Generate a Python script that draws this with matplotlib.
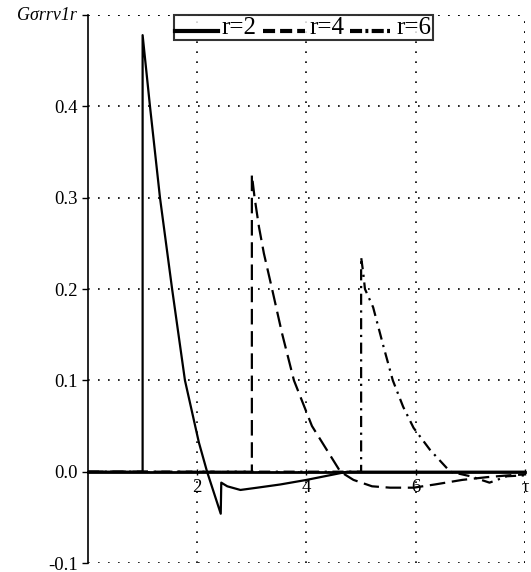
import numpy as np
import matplotlib.pyplot as plt

# r=2 curve
x_r2 = [0, 1.0, 1.0, 1.135, 1.318, 1.54, 1.775, 2.03, 2.18, 2.43, 2.44, 2.55, 2.79, 3.1, 3.52, 4.0, 4.5, 4.75, 8.0]
y_r2 = [0, 0, 0.478, 0.4, 0.3, 0.2, 0.1, 0.032, 0, -0.046, -0.012, -0.016, -0.02, -0.0175, -0.014, -0.009, -0.003, 0, 0]

# r=4 curve
x_r4 = [0, 3.0, 3.0, 3.05, 3.13, 3.22, 3.37, 3.55, 3.77, 4.1, 4.62, 4.86, 5.2, 5.53, 5.96, 6.35, 6.85, 7.3, 7.7, 8.0]
y_r4 = [0, 0, 0.325, 0.3, 0.268, 0.239, 0.2, 0.152, 0.1, 0.05, 0, -0.009, -0.016, -0.0175, -0.0175, -0.014, -0.009, -0.006, -0.004, -0.003]

# r=6 curve
x_r6 = [0, 5.0, 5.0, 5.04, 5.07, 5.22, 5.41, 5.58, 5.77, 5.96, 6.26, 6.63, 7.0, 7.35, 7.67, 8.0]
y_r6 = [0, 0, 0.235, 0.217, 0.2, 0.18, 0.137, 0.1, 0.071, 0.048, 0.024, 0, -0.005, -0.012, -0.005, -0.004]

xticks = [2, 4, 6, 8]
xticklabels = ['2', '4', '6', 'τ']
yticks = [-0.1, 0.0, 0.1, 0.2, 0.3, 0.4, 0.5]
yticklabels = ['-0.1', '0.0', '0.1', '0.2', '0.3', '0.4', '']

plt.rcParams['font.family'] = 'Liberation Serif'

fig = plt.figure(figsize=(5.31, 5.72), dpi=100)
ax = fig.add_axes([0.1657, 0.0157, 0.823, 0.958])

ax.plot(x_r2, y_r2, color='black', lw=1.6, ls='-', label='r=2')
ax.plot(x_r4, y_r4, color='black', lw=1.6, ls=(0, (7, 3)), label='r=4')
ax.plot(x_r6, y_r6, color='black', lw=1.6, ls=(0, (5, 2.5, 1, 2.5)), label='r=6')

ax.set_xlim(0, 8)
ax.set_ylim(-0.1, 0.5)

ax.spines['bottom'].set_position(('data', 0))
ax.spines['bottom'].set_linewidth(2)
ax.spines['left'].set_linewidth(1.2)
ax.spines['top'].set_visible(False)
ax.spines['right'].set_visible(False)

ax.set_xticks(xticks)
ax.set_xticklabels(xticklabels)
ax.set_yticks(yticks)
ax.set_yticklabels(yticklabels)
ax.tick_params(axis='both', labelsize=13.5, colors='black', length=4, width=1)
ax.tick_params(axis='x', direction='inout', pad=3)

ax.grid(True, color='black', ls=(0, (1, 5)), lw=1.2)
ax.axhline(0.5, color='black', ls=(0, (1, 5)), lw=1.2)
ax.axvline(8, color='black', ls=(0, (1, 5)), lw=1.2)

ax.annotate('Gσrrv1r', xy=(0, 0.5), xytext=(-8, 0), textcoords='offset points',
            ha='right', va='center', fontsize=13, style='italic')

leg = ax.legend(loc='upper center', bbox_to_anchor=(0.493, 1.0), ncol=3,
                fontsize=18, frameon=True, fancybox=False, handlelength=1.7,
                handletextpad=0.15, columnspacing=0.25, borderpad=0.05,
                borderaxespad=0)
leg.get_frame().set_edgecolor('black')
leg.get_frame().set_linewidth(1.5)
leg_styles = ['-', (0, (2.9, 1.2)), (0, (2.9, 0.8, 0.7, 0.8))]
for line, st in zip(leg.get_lines(), leg_styles):
    line.set_linewidth(3)
    line.set_linestyle(st)
    line.set_ydata(np.asarray(line.get_ydata(), dtype=float) - 4)

fig.savefig('out.png', dpi=100)
